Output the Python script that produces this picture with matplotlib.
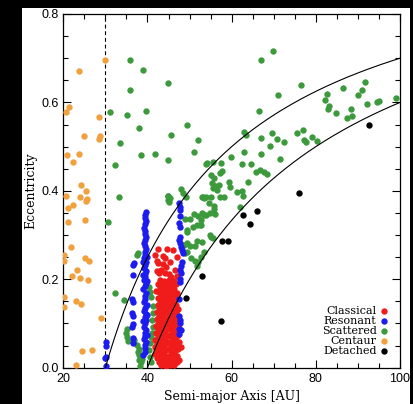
import numpy as np
import matplotlib
matplotlib.use("Agg")
import matplotlib.pyplot as plt
from matplotlib.patches import Rectangle
from matplotlib.ticker import MultipleLocator

# Trans-Neptunian objects: (semi-major axis [AU], eccentricity)
classical = [
    (42.4, 0.268), (44.6, 0.268), (46.0, 0.266), (41.8, 0.255), (43.8, 0.253),
    (44.2, 0.247), (46.9, 0.251), (42.2, 0.242), (42.4, 0.236), (43.8, 0.234),
    (44.3, 0.227), (45.3, 0.238), (42.2, 0.219), (42.7, 0.214), (46.5, 0.221),
    (44.1, 0.214), (45.7, 0.205), (47.1, 0.208), (43.2, 0.222), (45.0, 0.212),
    (42.9, 0.198), (44.0, 0.196), (45.2, 0.199), (46.3, 0.195),
    (42.6, 0.190), (43.5, 0.188), (44.7, 0.191), (45.8, 0.187), (46.8, 0.189),
    (43.0, 0.182), (44.2, 0.180), (45.3, 0.183), (46.4, 0.179),
    (42.0, 0.174), (42.8, 0.172), (43.8, 0.175), (44.9, 0.171), (46.0, 0.173), (47.0, 0.170),
    (43.3, 0.166), (44.4, 0.164), (45.5, 0.167), (46.6, 0.163),
    (42.5, 0.158), (43.6, 0.156), (44.8, 0.159), (45.9, 0.155), (46.9, 0.157),
    (42.9, 0.150), (44.1, 0.148), (45.2, 0.151), (46.3, 0.147),
    (42.4, 0.142), (43.5, 0.140), (44.6, 0.143), (45.7, 0.139), (46.8, 0.141),
    (42.8, 0.134), (43.9, 0.132), (45.1, 0.135), (46.2, 0.131), (47.2, 0.133),
    (42.3, 0.126), (43.4, 0.124), (44.5, 0.127), (45.6, 0.123), (46.7, 0.125),
    (42.7, 0.118), (43.8, 0.116), (45.0, 0.119), (46.1, 0.115), (47.1, 0.117),
    (42.2, 0.110), (43.3, 0.108), (44.4, 0.111), (45.5, 0.107), (46.6, 0.109),
    (42.6, 0.102), (43.7, 0.100), (44.9, 0.103), (46.0, 0.099), (47.0, 0.101),
    (42.1, 0.094), (43.2, 0.092), (44.3, 0.095), (45.4, 0.091), (46.5, 0.093), (47.4, 0.090),
    (42.5, 0.086), (43.6, 0.084), (44.8, 0.087), (45.9, 0.083), (46.9, 0.085),
    (42.0, 0.078), (43.1, 0.076), (44.2, 0.079), (45.3, 0.075), (46.4, 0.077), (47.3, 0.074),
    (42.4, 0.070), (43.5, 0.068), (44.7, 0.071), (45.8, 0.067), (46.8, 0.069),
    (41.9, 0.062), (43.0, 0.060), (44.1, 0.063), (45.2, 0.059), (46.3, 0.061), (47.4, 0.058),
    (42.3, 0.054), (43.4, 0.052), (44.6, 0.055), (45.7, 0.051), (46.7, 0.053),
    (41.8, 0.046), (42.9, 0.044), (44.0, 0.047), (45.1, 0.043), (46.2, 0.045), (47.2, 0.042), (48.0, 0.047),
    (42.2, 0.038), (43.3, 0.036), (44.5, 0.039), (45.6, 0.035), (46.6, 0.037),
    (41.9, 0.030), (42.8, 0.028), (43.9, 0.031), (45.0, 0.027), (46.1, 0.029), (47.1, 0.026),
    (42.3, 0.022), (43.4, 0.020), (44.4, 0.023), (45.5, 0.019), (46.5, 0.021), (47.6, 0.018),
    (42.7, 0.014), (43.8, 0.012), (44.9, 0.015), (46.0, 0.011), (47.0, 0.013),
    (43.2, 0.006), (44.3, 0.004), (45.4, 0.007), (46.4, 0.005),
]

resonant = [
    # Neptune trojans
    (30.1, 0.059), (30.1, 0.048), (30.2, 0.024), (29.9, 0.021), (30.1, 0.004),
    # 4:3 / 5:4 group
    (36.6, 0.233), (36.5, 0.209), (36.4, 0.156), (36.5, 0.149), (36.4, 0.124),
    (36.5, 0.117), (36.6, 0.099), (36.4, 0.093), (36.5, 0.067), (36.6, 0.055),
    (36.8, 0.236),
    # 3:2 (plutinos)
    (39.6, 0.352), (39.4, 0.345), (39.3, 0.338), (39.6, 0.331), (39.4, 0.324),
    (39.2, 0.317), (39.5, 0.310), (39.3, 0.303), (39.6, 0.296), (39.4, 0.289),
    (39.2, 0.282), (39.5, 0.275), (39.7, 0.268), (39.3, 0.261), (39.5, 0.254),
    (39.2, 0.247), (39.6, 0.240), (39.4, 0.233), (39.1, 0.226), (39.7, 0.219),
    (39.3, 0.212), (39.5, 0.205), (39.2, 0.198), (39.6, 0.191), (39.4, 0.184),
    (39.0, 0.177), (39.7, 0.170), (39.3, 0.163), (39.5, 0.156), (39.2, 0.149),
    (39.8, 0.142), (39.4, 0.135), (39.1, 0.128), (39.6, 0.121), (39.3, 0.114),
    (39.7, 0.107), (39.4, 0.100), (39.2, 0.093), (39.6, 0.086), (39.3, 0.079),
    (39.5, 0.072), (39.2, 0.065), (39.6, 0.058), (39.4, 0.051), (39.3, 0.044),
    (39.5, 0.036), (39.0, 0.028), (39.8, 0.250), (39.8, 0.195), (39.0, 0.210),
    (39.0, 0.240), (39.8, 0.120), (39.0, 0.105), (39.8, 0.075),
    # 2:1
    (47.6, 0.373), (47.7, 0.364), (47.7, 0.356), (47.7, 0.342), (47.6, 0.327),
    (47.7, 0.319), (47.7, 0.296), (47.5, 0.289), (47.7, 0.281), (48.0, 0.274),
    (48.3, 0.266), (48.5, 0.259), (48.1, 0.240), (47.9, 0.229), (47.7, 0.221),
    (47.9, 0.214), (47.7, 0.201), (47.7, 0.194), (47.6, 0.156), (47.6, 0.118),
    (47.7, 0.107), (47.8, 0.100), (47.6, 0.088), (48.0, 0.085), (47.6, 0.077),
]

scattered = [
    (35.9, 0.695), (39.0, 0.674), (44.9, 0.645), (35.8, 0.628), (31.2, 0.578),
    (35.1, 0.572), (39.6, 0.581), (37.9, 0.543), (33.4, 0.508), (45.5, 0.526),
    (49.4, 0.548), (52.1, 0.516), (32.4, 0.458), (38.5, 0.481), (41.8, 0.484),
    (44.9, 0.470), (51.1, 0.487), (53.9, 0.461), (33.2, 0.385), (44.8, 0.389),
    (48.0, 0.404), (52.9, 0.385), (53.4, 0.383),
    (69.9, 0.716), (66.9, 0.695), (76.4, 0.640), (71.0, 0.616), (66.6, 0.581),
    (63.0, 0.534), (63.5, 0.527), (67.0, 0.520), (69.5, 0.531), (70.7, 0.517),
    (72.5, 0.510), (69.1, 0.502), (75.5, 0.530), (77.0, 0.538), (77.2, 0.514),
    (77.6, 0.510), (79.1, 0.521), (80.2, 0.513), (82.6, 0.619), (82.2, 0.606),
    (83.1, 0.593), (83.0, 0.585), (84.8, 0.575), (86.4, 0.632), (88.3, 0.585),
    (87.4, 0.564), (88.6, 0.569), (90.1, 0.617), (91.0, 0.627), (91.7, 0.647),
    (92.1, 0.597), (94.5, 0.601), (95.0, 0.603), (99.1, 0.611),
    (59.9, 0.477), (62.9, 0.489), (62.5, 0.461), (64.5, 0.461), (63.9, 0.421),
    (65.8, 0.443), (66.8, 0.448), (67.7, 0.443), (68.4, 0.439), (67.0, 0.483),
    (71.5, 0.472), (57.4, 0.464), (55.6, 0.466), (57.8, 0.446), (57.3, 0.440),
    (54.2, 0.462), (55.2, 0.436), (55.8, 0.428), (55.3, 0.418), (56.0, 0.412),
    (57.0, 0.413), (59.4, 0.419), (59.7, 0.408), (55.6, 0.407), (56.5, 0.402),
    (61.3, 0.397), (62.4, 0.400), (62.7, 0.389), (57.3, 0.387), (58.2, 0.387),
    (53.2, 0.385), (53.8, 0.386), (55.2, 0.387), (54.5, 0.372), (55.7, 0.366),
    (55.9, 0.359), (62.1, 0.364), (54.9, 0.349), (56.1, 0.347), (52.0, 0.344),
    (53.8, 0.345), (52.8, 0.334), (52.6, 0.323), (50.9, 0.318), (49.5, 0.312),
    (55.1, 0.296), (55.6, 0.294), (45.3, 0.383), (44.9, 0.388), (44.8, 0.379),
    (45.1, 0.374), (48.5, 0.395), (49.1, 0.387),
    (49.3, 0.308), (51.7, 0.323), (51.7, 0.287), (52.9, 0.285), (48.9, 0.259),
    (50.3, 0.248), (51.3, 0.242), (52.1, 0.238), (50.1, 0.337), (52.5, 0.322),
    (51.3, 0.276), (49.3, 0.262), (51.7, 0.229), (48.9, 0.337), (53.4, 0.345),
    (51.1, 0.348), (52.9, 0.349), (54.8, 0.300), (48.7, 0.278), (49.3, 0.281),
    (50.1, 0.275), (53.5, 0.262), (52.8, 0.250),
    (30.7, 0.329), (32.4, 0.168), (34.5, 0.154), (35.1, 0.088), (34.9, 0.079),
    (35.1, 0.069), (35.3, 0.061), (37.4, 0.254), (37.8, 0.259), (36.9, 0.062),
    (37.6, 0.051), (38.0, 0.043), (37.7, 0.035), (38.1, 0.028), (37.9, 0.017),
    (38.5, 0.012), (38.2, 0.004), (38.8, 0.020),
    (40.3, 0.182), (40.6, 0.171), (40.8, 0.160), (41.4, 0.123), (41.0, 0.108),
    (41.4, 0.093), (41.1, 0.078), (40.8, 0.070), (40.6, 0.055), (40.4, 0.040),
    (40.6, 0.025), (40.9, 0.012), (41.3, 0.140),
]

centaur = [
    (29.9, 0.696), (23.7, 0.671), (20.6, 0.579), (21.4, 0.589), (28.6, 0.566),
    (24.8, 0.525), (28.7, 0.524), (28.5, 0.517), (20.9, 0.482), (23.8, 0.483),
    (22.3, 0.465), (24.2, 0.413), (25.3, 0.400), (20.6, 0.388), (23.9, 0.387),
    (25.7, 0.382), (25.4, 0.376), (22.2, 0.368), (21.0, 0.361), (21.2, 0.330),
    (25.1, 0.334), (21.9, 0.272), (20.2, 0.254), (20.2, 0.241), (25.2, 0.249),
    (26.2, 0.242), (23.3, 0.220), (22.1, 0.208), (24.0, 0.202), (25.8, 0.198),
    (20.2, 0.161), (20.2, 0.137), (23.0, 0.151), (24.3, 0.143), (29.0, 0.112),
    (24.5, 0.038), (26.9, 0.041), (23.0, 0.007),
]

detached = [
    (92.7, 0.548), (76.1, 0.395), (62.7, 0.345), (66.0, 0.355), (64.3, 0.324),
    (57.7, 0.287), (59.1, 0.287), (57.4, 0.106), (52.9, 0.207), (49.1, 0.158),
]

# constant-perihelion curves q = a (1 - e)
perihelia = [30, 40]
neptune_a = 30

groups = [
    ("Scattered", scattered, "#3c9a3c"),
    ("Centaur", centaur, "#f0a03c"),
    ("Detached", detached, "black"),
    ("Classical", classical, "#f01c1c"),
    ("Resonant", resonant, "#1c1cf0"),
]
legend_order = ["Classical", "Resonant", "Scattered", "Centaur", "Detached"]

fig = plt.figure(figsize=(4.14, 4.04), dpi=100, facecolor="black")
fig.add_artist(Rectangle((22 / 414, 0), 388 / 414, 396 / 404,
                         transform=fig.transFigure, facecolor="white",
                         edgecolor="none", zorder=0))
ax = fig.add_axes([63.3 / 414, 1 - 367.7 / 404, 336.7 / 414, 353.7 / 404])

handles = {}
for name, pts, color in groups:
    a, e = np.array(pts).T
    handles[name] = ax.scatter(a, e, s=21, color=color, linewidths=0,
                               label=name, zorder=3)

for q in perihelia:
    a = np.linspace(q, 100, 200)
    ax.plot(a, 1 - q / a, color="black", lw=0.8, zorder=4)

ax.axvline(neptune_a, color="black", lw=0.8, ls=(0, (3.5, 2.5)), zorder=2)

ax.set_xlim(20, 100)
ax.set_ylim(0, 0.8)
ax.xaxis.set_major_locator(MultipleLocator(20))
ax.xaxis.set_minor_locator(MultipleLocator(5))
ax.yaxis.set_major_locator(MultipleLocator(0.2))
ax.yaxis.set_minor_locator(MultipleLocator(0.05))
ax.yaxis.set_major_formatter(plt.FormatStrFormatter("%.1f"))
ax.tick_params(which="both", direction="in", top=True, right=True,
               width=0.8, labelsize=9)
ax.tick_params(which="major", length=6)
ax.tick_params(which="minor", length=3.5)
for lab in ax.get_xticklabels() + ax.get_yticklabels():
    lab.set_fontfamily("Liberation Sans")
for sp in ax.spines.values():
    sp.set_linewidth(0.9)

ax.set_xlabel("Semi-major Axis [AU]", family="DejaVu Serif", fontsize=9,
              labelpad=4)
ax.set_ylabel("Eccentricity", family="DejaVu Serif", fontsize=9, labelpad=3)

ax.legend([handles[n] for n in legend_order], legend_order,
          loc="lower right", bbox_to_anchor=(0.985, 0.01),
          markerfirst=False, frameon=False, handlelength=0.6,
          handletextpad=0.35, labelspacing=0.0, borderpad=0.2,
          prop={"family": "DejaVu Serif", "size": 8})

fig.savefig("out.png", dpi=100, facecolor="black")
